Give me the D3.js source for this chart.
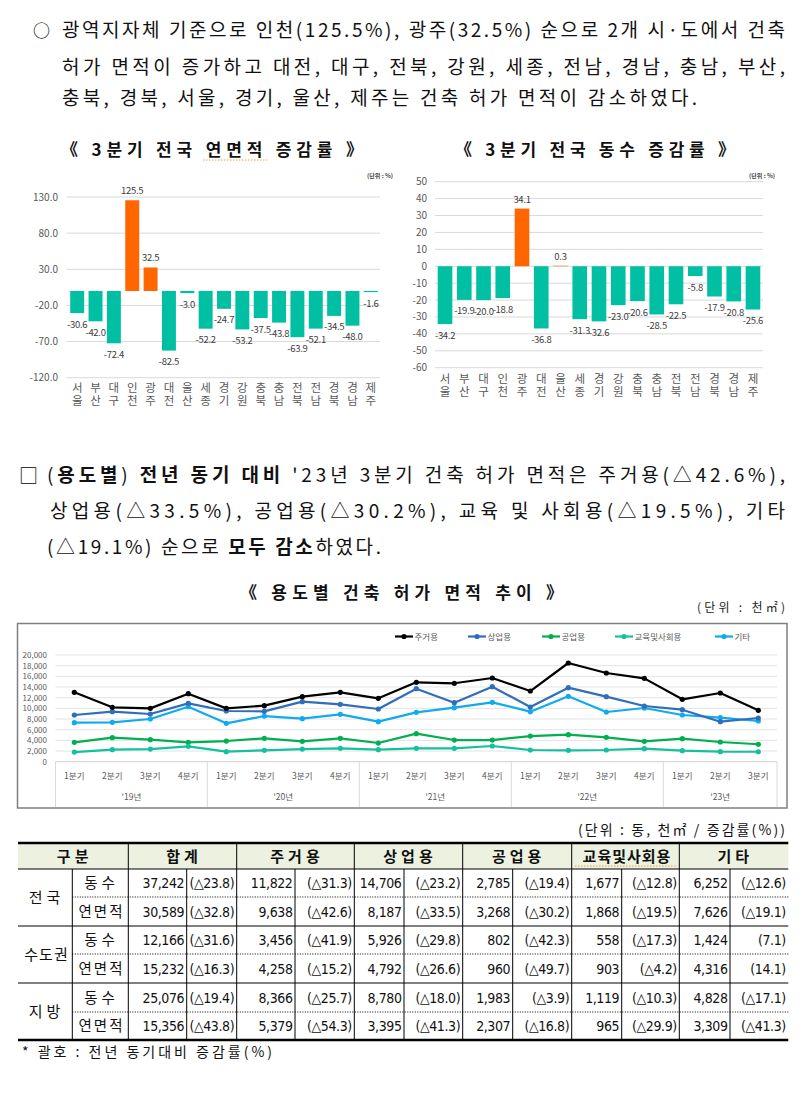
<!DOCTYPE html>
<html><head><meta charset="utf-8">
<script src="https://cdn.jsdelivr.net/npm/d3@7"></script>
<style>
body{margin:0;background:#fff}
svg{display:block}
text{font-family:"Noto Sans CJK KR","Noto Sans",sans-serif}
.num{font-family:"Liberation Sans Narrow","DejaVu Sans Condensed","Noto Sans CJK KR",sans-serif;font-stretch:condensed}
.vert{writing-mode:vertical-rl;text-orientation:upright}
</style>
</head><body>
<svg id="c" width="804" height="1105"></svg>
<script>
// ---------- data ----------
const regions = ["서울","부산","대구","인천","광주","대전","울산","세종","경기","강원","충북","충남","전북","전남","경북","경남","제주"];
const areaRates = [-30.6,-42.0,-72.4,125.5,32.5,-82.5,-3.0,-52.2,-24.7,-53.2,-37.5,-43.8,-63.9,-52.1,-34.5,-48.0,-1.6];
const countRates = [-34.2,-19.9,-20.0,-18.8,34.1,-36.8,0.3,-31.3,-32.6,-23.0,-20.6,-28.5,-22.5,-5.8,-17.9,-20.8,-25.6];
const areaTicks = [130,80,30,-20,-70,-120];
const countTicks = [50,40,30,20,10,0,-10,-20,-30,-40,-50,-60];

const quarterLabels = ["1분기","2분기","3분기","4분기","1분기","2분기","3분기","4분기","1분기","2분기","3분기","4분기","1분기","2분기","3분기","4분기","1분기","2분기","3분기"];
const yearLabels = ["'19년","'20년","'21년","'22년","'23년"];
const yearSpans = [4,4,4,4,3];
const seriesNames = ["주거용","상업용","공업용","교육및사회용","기타"];
const residential = [13000,10190,10000,12750,10000,10500,12190,13000,11875,14875,14700,15690,13250,18500,16625,15625,11690,12875,9638];
const commercial  = [8750,9375,8940,10940,9500,9440,11250,10750,9875,13690,11060,14060,10250,13875,12190,10440,9750,7500,8187];
const industrial  = [3625,4500,4125,3625,3875,4375,3810,4375,3500,5250,4060,4060,4810,5060,4560,3810,4310,3690,3268];
const education   = [1810,2250,2375,2875,1875,2125,2375,2500,2250,2500,2500,2940,2190,2125,2190,2440,2060,1875,1868];
const others      = [7310,7375,8000,10310,7190,8560,8060,8875,7500,9250,10125,11125,9375,12250,9310,10060,8750,8250,7626];
const lineTicks = [0,2000,4000,6000,8000,10000,12000,14000,16000,18000,20000];

const tableHeaders = ["구분","합계","주거용","상업용","공업용","교육및사회용","기타"];
const tableGroups = ["전국","수도권","지방"];
const tableKinds = ["동수","연면적"];
const tableRows = [
  ["37,242","(△23.8)","11,822","(△31.3)","14,706","(△23.2)","2,785","(△19.4)","1,677","(△12.8)","6,252","(△12.6)"],
  ["30,589","(△32.8)","9,638","(△42.6)","8,187","(△33.5)","3,268","(△30.2)","1,868","(△19.5)","7,626","(△19.1)"],
  ["12,166","(△31.6)","3,456","(△41.9)","5,926","(△29.8)","802","(△42.3)","558","(△17.3)","1,424","(7.1)"],
  ["15,232","(△16.3)","4,258","(△15.2)","4,792","(△26.6)","960","(△49.7)","903","(△4.2)","4,316","(14.1)"],
  ["25,076","(△19.4)","8,366","(△25.7)","8,780","(△18.0)","1,983","(△3.9)","1,119","(△10.3)","4,828","(△17.1)"],
  ["15,356","(△43.8)","5,379","(△54.3)","3,395","(△41.3)","2,307","(△16.8)","965","(△29.9)","3,309","(△41.3)"]
];

// ---------- drawing ----------
const svg = d3.select("#c");
svg.append("rect").attr("width",804).attr("height",1105).attr("fill","#fff");

function para(x, y, parts, len, size) {
  const t = svg.append("text").attr("x", x).attr("y", y).attr("font-size", size || 19).attr("fill", "#111");
  if (len) t.attr("textLength", len).attr("lengthAdjust", "spacing");
  parts.forEach(p => {
    const s = t.append("tspan").text(p[0]);
    if (p[1]) s.attr("font-weight", "bold");
  });
  return t;
}

// top paragraph
svg.append("text").attr("x",33).attr("y",37).attr("font-size",17).text("○");
para(62, 37, [["광역지자체 기준으로 인천(125.5%), 광주(32.5%) 순으로 2개 시·도에서 건축"]], 723);
para(62, 74, [["허가 면적이 증가하고 대전, 대구, 전북, 강원, 세종, 전남, 경남, 충남, 부산,"]], 723);
para(62, 105, [["충북, 경북, 서울, 경기, 울산, 제주는 건축 허가 면적이 감소하였다."]], 635);

// bar charts
function barChart(o) {
  const x = d3.scaleBand().domain(regions).range(o.xr).paddingInner(0.24).paddingOuter(0.12);
  const y = d3.scaleLinear().domain(o.domain).range(o.yr);
  const g = svg.append("g");
  g.append("text").attr("x", o.tx).attr("y", 156).attr("font-size", 17).attr("font-weight", "bold")
    .attr("textLength", o.tlen).attr("lengthAdjust", "spacing").attr("fill", "#111").text(o.title);
  if (o.underline) {
    g.append("line").attr("x1", o.underline[0]).attr("x2", o.underline[1]).attr("y1", 160).attr("y2", 160)
      .attr("stroke", "#f0a040").attr("stroke-width", 1).attr("stroke-dasharray", "1.5,1.5");
  }
  g.append("text").attr("x", o.ux).attr("y", 178).attr("font-size", 6).attr("font-weight", "bold").attr("fill", "#404040").text("(단위 : %)");
  g.selectAll(".gl").data(o.ticks).join("line")
    .attr("x1", o.gx[0]).attr("x2", o.gx[1]).attr("y1", d => y(d)).attr("y2", d => y(d))
    .attr("stroke", "#d9d9d9").attr("stroke-width", 1);
  g.selectAll(".tl").data(o.ticks).join("text")
    .attr("x", o.lx).attr("y", d => y(d) + 3.5).attr("text-anchor", "end")
    .attr("font-size", 10).attr("fill", "#595959").attr("font-family", "'Noto Sans',sans-serif")
    .text(d => o.fmt(d));
  g.selectAll(".bar").data(o.values).join("rect")
    .attr("x", (d, i) => x(regions[i])).attr("width", x.bandwidth())
    .attr("y", d => y(Math.max(0, d))).attr("height", d => Math.abs(y(d) - y(0)))
    .attr("fill", d => d > 0 ? "#ff6600" : "#00bfa3");
  g.selectAll(".vl").data(o.values).join("text")
    .attr("x", (d, i) => x(regions[i]) + x.bandwidth() / 2)
    .attr("y", d => d > 0 ? y(d) - 6 : y(d) + 14.5)
    .attr("text-anchor", "middle").attr("font-size", 9.5).attr("fill", "#404040")
    .attr("font-family", "'Noto Sans',sans-serif").attr("letter-spacing", -0.3)
    .text(d => d.toFixed(1));
  g.selectAll(".cat").data(regions).join("text").attr("class", "vert")
    .attr("x", r => x(r) + x.bandwidth() / 2).attr("y", o.cy)
    .attr("font-size", 11.5).attr("letter-spacing", 1.5).attr("fill", "#595959").text(r => r);
}

barChart({title: "《 3분기 전국 연면적 증감률 》", tx: 61, tlen: 302, underline: [203, 267], ux: 367,
  xr: [68, 380], yr: [377.7, 197], domain: [-120, 130], ticks: areaTicks, gx: [66.7, 380], lx: 58,
  fmt: d => d.toFixed(1), values: areaRates, cy: 382});
barChart({title: "《 3분기 전국 동수 증감률 》", tx: 455, tlen: 280, ux: 749,
  xr: [435.4, 762.6], yr: [367.7, 181.7], domain: [-60, 50], ticks: countTicks, gx: [435, 763], lx: 427,
  fmt: d => d, values: countRates, cy: 373});

// middle paragraph
svg.append("text").attr("x",19).attr("y",483).attr("font-size",19).text("□");
para(47, 482, [["("],["용도별",1],[") "],["전년 동기 대비",1],[" '23년 3분기 건축 허가 면적은 주거용(△42.6%),"]], 738);
para(50, 518, [["상업용(△33.5%), 공업용(△30.2%), 교육 및 사회용(△19.5%), 기타"]], 735);
para(47, 554, [["(△19.1%) 순으로 "],["모두 감소",1],["하였다."]], 334);

// line chart
svg.append("text").attr("x", 240).attr("y", 599).attr("font-size", 17).attr("font-weight", "bold")
  .attr("textLength", 323).attr("lengthAdjust", "spacing").attr("fill", "#111").text("《 용도별 건축 허가 면적 추이 》");
svg.append("text").attr("x", 697).attr("y", 612).attr("font-size", 12).attr("fill", "#222")
  .attr("textLength", 88).attr("lengthAdjust", "spacing").text("(단위 : 천㎡)");
svg.append("rect").attr("x", 17.5).attr("y", 623.5).attr("width", 769.5).attr("height", 184.5)
  .attr("fill", "#fff").attr("stroke", "#7f7f7f").attr("stroke-width", 1.5);

const lx = d3.scaleBand().domain(d3.range(quarterLabels.length)).range([55.3, 777.3]);
const ly = d3.scaleLinear().domain([0, 20000]).range([761.7, 655]);
const lg = svg.append("g");
lg.selectAll(".g").data(lineTicks).join("line")
  .attr("x1", 55.5).attr("x2", 777).attr("y1", d => ly(d)).attr("y2", d => ly(d))
  .attr("stroke", d => d === 0 ? "#d0d0d0" : "#e3e3e3").attr("stroke-width", 1);
lg.selectAll(".t").data(lineTicks).join("text")
  .attr("x", 47).attr("y", d => ly(d) + 3).attr("text-anchor", "end")
  .attr("font-size", 8).attr("fill", "#595959").attr("font-family", "'Noto Sans',sans-serif")
  .text(d => d3.format(",")(d));
let idx = 0;
const bounds = [55.5];
yearSpans.forEach(s => { idx += s; bounds.push(idx < quarterLabels.length ? lx(idx) : 777); });
bounds.forEach(b => lg.append("line").attr("x1", b).attr("x2", b).attr("y1", 761.7).attr("y2", 807)
  .attr("stroke", "#d9d9d9").attr("stroke-width", 1));
lg.selectAll(".q").data(quarterLabels).join("text")
  .attr("x", (d, i) => lx(i) + lx.bandwidth() / 2).attr("y", 779).attr("text-anchor", "middle")
  .attr("font-size", 8.5).attr("fill", "#595959").text(d => d);
yearLabels.forEach((y, i) => lg.append("text").attr("x", (bounds[i] + bounds[i + 1]) / 2).attr("y", 800)
  .attr("text-anchor", "middle").attr("font-size", 8.5).attr("fill", "#595959").text(y));

const series = [residential, commercial, industrial, education, others];
const colors = ["#000000", "#2f6eba", "#00b050", "#14c09e", "#11aaef"];
const lineGen = d3.line().x((d, i) => lx(i) + lx.bandwidth() / 2).y(d => ly(d));
[2, 3, 4, 1, 0].forEach(k => {
  lg.append("path").attr("d", lineGen(series[k])).attr("fill", "none")
    .attr("stroke", colors[k]).attr("stroke-width", 2.2).attr("stroke-linejoin", "round");
  lg.selectAll(".m" + k).data(series[k]).join("circle")
    .attr("cx", (d, i) => lx(i) + lx.bandwidth() / 2).attr("cy", d => ly(d)).attr("r", 2.6)
    .attr("fill", colors[k]);
});
const legX = [395, 468, 542, 615, 715];
seriesNames.forEach((n, k) => {
  lg.append("line").attr("x1", legX[k]).attr("x2", legX[k] + 18).attr("y1", 636.5).attr("y2", 636.5)
    .attr("stroke", colors[k]).attr("stroke-width", 2.2);
  lg.append("circle").attr("cx", legX[k] + 9).attr("cy", 636.5).attr("r", 2.6).attr("fill", colors[k]);
  lg.append("text").attr("x", legX[k] + 19.5).attr("y", 639.5).attr("font-size", 8.5).attr("fill", "#595959").text(n);
});

// table
svg.append("text").attr("x", 578).attr("y", 835).attr("font-size", 14).attr("fill", "#111")
  .attr("textLength", 207).attr("lengthAdjust", "spacing").text("(단위 : 동, 천㎡ / 증감률(%))");
const tg = svg.append("g");
const colB = [18, 128.3, 236.7, 354.3, 462.7, 571.7, 679.3, 788.3];
const subB = [186.7, 295, 404, 512.7, 621.7, 730];
const rowB = [869, 897, 926, 954, 983, 1012, 1040];
tg.append("rect").attr("x", 18).attr("y", 843).attr("width", 770.3).attr("height", 26).attr("fill", "#edf1e0");
tableHeaders.forEach((h, i) => {
  tg.append("text").attr("x", (colB[i] + colB[i + 1]) / 2 + 1.5).attr("y", 861.5).attr("text-anchor", "middle")
    .attr("font-size", 15).attr("font-weight", "bold").attr("letter-spacing", h.length > 3 ? 1 : 4).attr("fill", "#111").text(h);
});
tg.append("line").attr("x1", 575).attr("x2", 677).attr("y1", 866).attr("y2", 866)
  .attr("stroke", "#f0a040").attr("stroke-width", 1).attr("stroke-dasharray", "1.5,1.5");
tg.append("line").attr("x1", 18).attr("x2", 788.3).attr("y1", 843).attr("y2", 843).attr("stroke", "#000").attr("stroke-width", 2.5);
tg.append("line").attr("x1", 18).attr("x2", 788.3).attr("y1", 1040).attr("y2", 1040).attr("stroke", "#000").attr("stroke-width", 2.5);
tg.append("line").attr("x1", 18).attr("x2", 788.3).attr("y1", 869).attr("y2", 869).attr("stroke", "#000").attr("stroke-width", 1);
[926, 983].forEach(y => tg.append("line").attr("x1", 18).attr("x2", 788.3).attr("y1", y).attr("y2", y).attr("stroke", "#000").attr("stroke-width", 1));
[897, 954, 1012].forEach(y => tg.append("line").attr("x1", 72.3).attr("x2", 788.3).attr("y1", y).attr("y2", y)
  .attr("stroke", "#000").attr("stroke-width", 1).attr("stroke-dasharray", "1,1.5"));
colB.slice(1, -1).forEach(x => tg.append("line").attr("x1", x).attr("x2", x).attr("y1", 843).attr("y2", 1040).attr("stroke", "#000").attr("stroke-width", 1));
subB.concat([72.3]).forEach(x => tg.append("line").attr("x1", x).attr("x2", x).attr("y1", 869).attr("y2", 1040).attr("stroke", "#000").attr("stroke-width", 1));
tableGroups.forEach((g, i) => {
  tg.append("text").attr("x", 45 + 1.5).attr("y", (rowB[i * 2] + rowB[i * 2 + 2]) / 2 + 5.5).attr("text-anchor", "middle")
    .attr("font-size", 15).attr("letter-spacing", g.length > 2 ? 1 : 4).attr("fill", "#111").text(g);
});
tableRows.forEach((row, r) => {
  const yb = (rowB[r] + rowB[r + 1]) / 2 + 5;
  tg.append("text").attr("x", 100 + 1.5).attr("y", yb).attr("text-anchor", "middle")
    .attr("font-size", 14.5).attr("letter-spacing", tableKinds[r % 2].length > 2 ? 2 : 4).attr("fill", "#111").text(tableKinds[r % 2]);
  const rights = [];
  for (let c = 0; c < 6; c++) { rights.push(subB[c]); rights.push(colB[c + 2]); }
  row.forEach((v, c) => {
    tg.append("text").attr("class", "num").attr("x", rights[c] - 2.5).attr("y", yb).attr("text-anchor", "end")
      .attr("font-size", 14).attr("letter-spacing", -0.4).attr("fill", "#111").text(v);
  });
});
svg.append("text").attr("x", 22).attr("y", 1057).attr("font-size", 14).attr("fill", "#111")
  .attr("textLength", 250).attr("lengthAdjust", "spacing").text("* 괄호 : 전년 동기대비 증감률(%)");
</script>
</body></html>
